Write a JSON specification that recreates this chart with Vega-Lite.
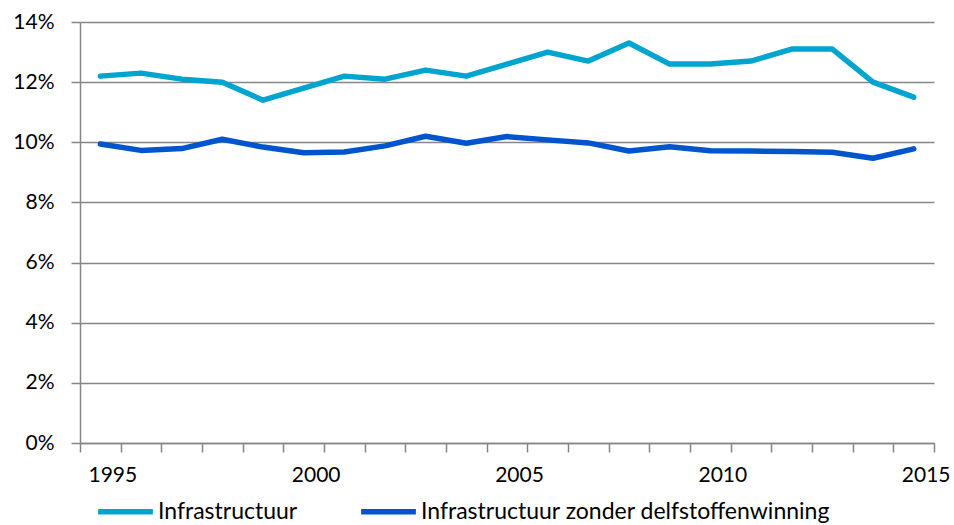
{
  "$schema": "https://vega.github.io/schema/vega-lite/v6.json",
  "width": 854,
  "height": 421,
  "autosize": "none",
  "padding": {"left": 80, "top": 22, "right": 20, "bottom": 82},
  "background": "white",
  "config": {
    "view": {"stroke": null},
    "font": "Lato",
    "axis": {"labelFont": "Lato", "labelFontSize": 21, "labelColor": "#000000"}
  },
  "data": {
    "values": [
      {"year": 1995, "series": "Infrastructuur", "value": 0.122},
      {"year": 1996, "series": "Infrastructuur", "value": 0.123},
      {"year": 1997, "series": "Infrastructuur", "value": 0.121},
      {"year": 1998, "series": "Infrastructuur", "value": 0.120},
      {"year": 1999, "series": "Infrastructuur", "value": 0.114},
      {"year": 2000, "series": "Infrastructuur", "value": 0.118},
      {"year": 2001, "series": "Infrastructuur", "value": 0.122},
      {"year": 2002, "series": "Infrastructuur", "value": 0.121},
      {"year": 2003, "series": "Infrastructuur", "value": 0.124},
      {"year": 2004, "series": "Infrastructuur", "value": 0.122},
      {"year": 2005, "series": "Infrastructuur", "value": 0.126},
      {"year": 2006, "series": "Infrastructuur", "value": 0.130},
      {"year": 2007, "series": "Infrastructuur", "value": 0.127},
      {"year": 2008, "series": "Infrastructuur", "value": 0.133},
      {"year": 2009, "series": "Infrastructuur", "value": 0.126},
      {"year": 2010, "series": "Infrastructuur", "value": 0.126},
      {"year": 2011, "series": "Infrastructuur", "value": 0.127},
      {"year": 2012, "series": "Infrastructuur", "value": 0.131},
      {"year": 2013, "series": "Infrastructuur", "value": 0.131},
      {"year": 2014, "series": "Infrastructuur", "value": 0.120},
      {"year": 2015, "series": "Infrastructuur", "value": 0.115},
      {"year": 1995, "series": "Infrastructuur zonder delfstoffenwinning", "value": 0.0994},
      {"year": 1996, "series": "Infrastructuur zonder delfstoffenwinning", "value": 0.0973},
      {"year": 1997, "series": "Infrastructuur zonder delfstoffenwinning", "value": 0.0979},
      {"year": 1998, "series": "Infrastructuur zonder delfstoffenwinning", "value": 0.1010},
      {"year": 1999, "series": "Infrastructuur zonder delfstoffenwinning", "value": 0.0984},
      {"year": 2000, "series": "Infrastructuur zonder delfstoffenwinning", "value": 0.0965},
      {"year": 2001, "series": "Infrastructuur zonder delfstoffenwinning", "value": 0.0968},
      {"year": 2002, "series": "Infrastructuur zonder delfstoffenwinning", "value": 0.0988},
      {"year": 2003, "series": "Infrastructuur zonder delfstoffenwinning", "value": 0.1020},
      {"year": 2004, "series": "Infrastructuur zonder delfstoffenwinning", "value": 0.0997},
      {"year": 2005, "series": "Infrastructuur zonder delfstoffenwinning", "value": 0.1019},
      {"year": 2006, "series": "Infrastructuur zonder delfstoffenwinning", "value": 0.1008},
      {"year": 2007, "series": "Infrastructuur zonder delfstoffenwinning", "value": 0.0998},
      {"year": 2008, "series": "Infrastructuur zonder delfstoffenwinning", "value": 0.0971},
      {"year": 2009, "series": "Infrastructuur zonder delfstoffenwinning", "value": 0.0985},
      {"year": 2010, "series": "Infrastructuur zonder delfstoffenwinning", "value": 0.0972},
      {"year": 2011, "series": "Infrastructuur zonder delfstoffenwinning", "value": 0.0971},
      {"year": 2012, "series": "Infrastructuur zonder delfstoffenwinning", "value": 0.0969},
      {"year": 2013, "series": "Infrastructuur zonder delfstoffenwinning", "value": 0.0967},
      {"year": 2014, "series": "Infrastructuur zonder delfstoffenwinning", "value": 0.0947},
      {"year": 2015, "series": "Infrastructuur zonder delfstoffenwinning", "value": 0.0978}
    ]
  },
  "layer": [
    {
      "mark": {"type": "line", "strokeWidth": 5.5, "strokeCap": "round", "strokeJoin": "round"},
      "encoding": {
        "x": {
          "field": "year", "type": "quantitative",
          "scale": {"domain": [1994.5, 2015.5], "nice": false, "zero": false},
          "axis": {
            "title": null,
            "orient": "bottom",
            "values": [1994.5, 1995.5, 1996.5, 1997.5, 1998.5, 1999.5, 2000.5, 2001.5, 2002.5, 2003.5, 2004.5, 2005.5, 2006.5, 2007.5, 2008.5, 2009.5, 2010.5, 2011.5, 2012.5, 2013.5, 2014.5, 2015.5],
            "labels": false, "grid": false,
            "domainColor": "#868686", "domainWidth": 1.5,
            "tickColor": "#868686", "tickWidth": 1.5, "tickSize": 9
          }
        },
        "y": {
          "field": "value", "type": "quantitative",
          "scale": {"domain": [0, 0.14], "nice": false},
          "axis": {
            "title": null,
            "values": [0, 0.02, 0.04, 0.06, 0.08, 0.1, 0.12, 0.14],
            "format": ".0%",
            "grid": true, "gridColor": "#868686", "gridWidth": 1.5,
            "domainColor": "#868686", "domainWidth": 1.5,
            "tickColor": "#868686", "tickWidth": 1.5, "tickSize": 9,
            "labelPadding": 17
          }
        },
        "color": {
          "field": "series", "type": "nominal",
          "scale": {"domain": ["Infrastructuur", "Infrastructuur zonder delfstoffenwinning"], "range": ["#00A5CF", "#0055CC"]},
          "legend": {
            "title": null,
            "orient": "none",
            "legendX": 15,
            "legendY": 459,
            "direction": "horizontal",
            "symbolType": "stroke",
            "symbolSize": 3000,
            "symbolStrokeWidth": 5.5,
            "labelFont": "Lato",
            "labelFontSize": 23,
            "labelColor": "#000000",
            "labelLimit": 600,
            "labelOffset": 2,
            "columnPadding": 52
          }
        }
      }
    },
    {
      "mark": {"type": "line", "opacity": 0},
      "encoding": {
        "x": {
          "field": "year", "type": "quantitative",
          "axis": {
            "title": null,
            "orient": "bottom",
            "values": [1995, 2000, 2005, 2010, 2015],
            "format": "d",
            "ticks": false, "domain": false, "grid": false,
            "labelPadding": 21,
            "labelFlush": false,
            "labelOffset": 12
          }
        },
        "y": {"field": "value", "type": "quantitative"}
      }
    }
  ],
  "resolve": {"axis": {"x": "independent"}}
}
